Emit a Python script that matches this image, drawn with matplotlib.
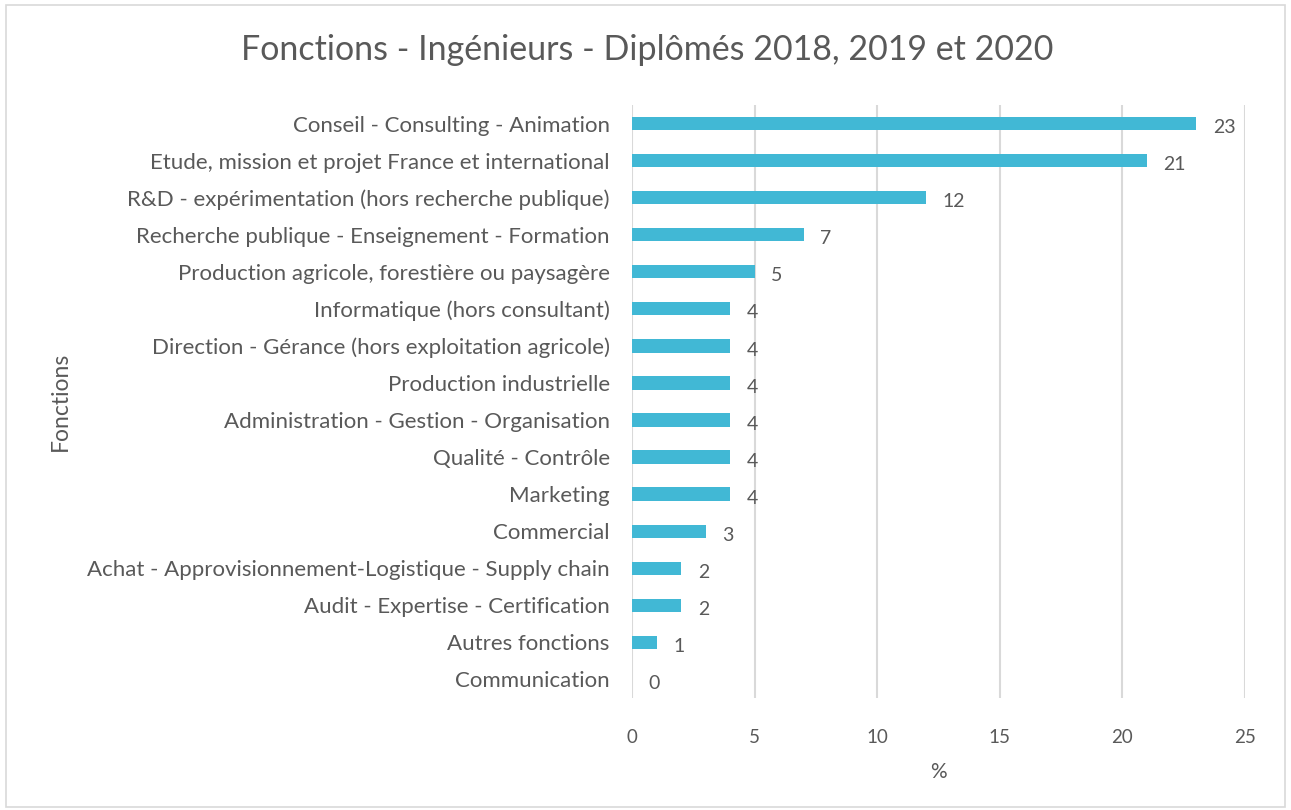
import matplotlib.pyplot as plt
import numpy as np

# Data (top to bottom)
fonctions = [
    "Conseil - Consulting - Animation",
    "Etude, mission et projet France et international",
    "R&D - expérimentation (hors recherche publique)",
    "Recherche publique - Enseignement - Formation",
    "Production agricole, forestière ou paysagère",
    "Informatique (hors consultant)",
    "Direction - Gérance (hors exploitation agricole)",
    "Production industrielle",
    "Administration - Gestion - Organisation",
    "Qualité - Contrôle",
    "Marketing",
    "Commercial",
    "Achat - Approvisionnement-Logistique - Supply chain",
    "Audit - Expertise - Certification",
    "Autres fonctions",
    "Communication",
]
pourcentages = [23, 21, 12, 7, 5, 4, 4, 4, 4, 4, 4, 3, 2, 2, 1, 0]
x_ticks = [0, 5, 10, 15, 20, 25]

plt.rcParams['font.family'] = ['Lato', 'DejaVu Sans']
grey = '#595959'
bar_color = '#41B8D5'

fig = plt.figure(figsize=(12.91, 8.10), dpi=100)
ax = fig.add_axes([0.4896, 0.1383, 0.4748, 0.7321])

y = np.arange(len(fonctions))
ax.barh(y, pourcentages, height=0.36, color=bar_color, zorder=3)

# value labels, Excel style (a bit to the right of the bar end)
for yi, v in zip(y, pourcentages):
    ax.annotate(str(v), (v, yi), xytext=(12, -3), textcoords='offset points',
                ha='left', va='center', fontsize=14, color=grey)

ax.set_xlim(0, 25)
ax.set_ylim(len(fonctions) - 0.5, -0.5)
ax.set_xticks(x_ticks)
ax.set_yticks(y)
ax.set_yticklabels(fonctions, fontsize=16, color=grey)
ax.tick_params(axis='x', labelsize=13.5, labelcolor=grey, length=0, pad=22)
ax.tick_params(axis='y', length=0, pad=16)
ax.grid(axis='x', color='#d9d9d9', linewidth=1.5, zorder=0)
for s in ax.spines.values():
    s.set_visible(False)

ax.set_xlabel('%', fontsize=15, color=grey, labelpad=12)
fig.text(0.047, 0.505, 'Fonctions', rotation=90, ha='center', va='center',
         fontsize=16.5, color=grey)
fig.text(0.501, 0.938, 'Fonctions - Ingénieurs - Diplômés 2018, 2019 et 2020',
         ha='center', va='center', fontsize=24.5, color=grey)

# light frame around the chart like the Excel export
frame = plt.Rectangle((0.005, 0.004), 0.99, 0.99, transform=fig.transFigure,
                      fill=False, edgecolor='#d9d9d9', linewidth=1.2)
fig.add_artist(frame)

fig.savefig('out.png', dpi=100, facecolor='white')
